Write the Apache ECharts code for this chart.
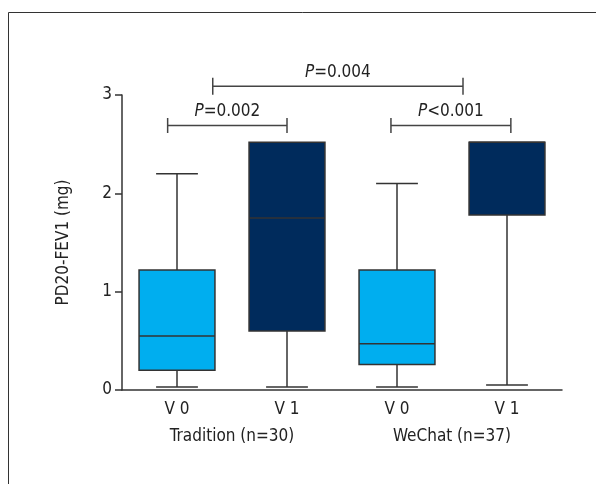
<!DOCTYPE html>
<html>
<head>
<meta charset="utf-8">
<script src="https://cdn.jsdelivr.net/npm/echarts@6/dist/echarts.min.js"></script>
<style>html,body{margin:0;padding:0;background:#fff}#c{width:596px;height:484px}</style>
</head>
<body>
<div id="c"></div>
<script>
// ---- data ----
var categories = ['V 0', 'V 1', 'V 0', 'V 1'];
var groupLabels = ['Tradition (n=30)', 'WeChat (n=37)'];
// [min, Q1, median, Q3, max]
var tradV0 = [0.03, 0.20, 0.55, 1.22, 2.20];
var tradV1 = [0.03, 0.60, 1.75, 2.52, 2.52];
var wechatV0 = [0.03, 0.26, 0.47, 1.22, 2.10];
var wechatV1 = [0.05, 1.78, 2.52, 2.52, 2.52];
var boxValues = [tradV0, tradV1, wechatV0, wechatV1];
var boxColors = ['#00AEEF', '#002B5C', '#00AEEF', '#002B5C'];
var yTicks = [0, 1, 2, 3];
// brackets: [xStart, xEnd, y, italic part, rest]  (x in category units)
var brackets = [
  [-0.085, 1.0, 2.69, 'P', '=0.002'],
  [1.945, 3.035, 2.69, 'P', '<0.001'],
  [0.325, 2.60, 3.09, 'P', '=0.004']
];

var FONT = "'Liberation Sans Narrow','DejaVu Sans Condensed','DejaVu Sans',sans-serif";
var TXT = '#222';
var LINE = '#333';

var chart = echarts.init(document.getElementById('c'), null, {renderer: 'canvas'});

var boxData = boxValues.map(function (v, i) { return [i].concat(v); });

var option = {
  animation: false,
  backgroundColor: '#fff',
  graphic: [
    {type: 'line', shape: {x1: 8.5, y1: 12.5, x2: 596, y2: 12.5}, style: {stroke: '#333', lineWidth: 1}},
    {type: 'line', shape: {x1: 8.5, y1: 12.5, x2: 8.5, y2: 484}, style: {stroke: '#333', lineWidth: 1}}
  ],
  grid: {left: 122, right: 34, top: 95, bottom: 94},
  xAxis: [
    {
      type: 'category', data: categories, boundaryGap: true,
      axisLine: {lineStyle: {color: LINE, width: 1.5}},
      axisTick: {show: false},
      axisLabel: {color: TXT, fontSize: 17, fontFamily: FONT, margin: 11, interval: 0}
    },
    {
      type: 'category', data: groupLabels, position: 'bottom', boundaryGap: true,
      axisLine: {show: false}, axisTick: {show: false},
      axisLabel: {color: TXT, fontSize: 17, fontFamily: FONT, margin: 38, interval: 0}
    },
    {
      type: 'value', min: -0.5, max: 3.5, show: false
    }
  ],
  yAxis: {
    type: 'value', min: 0, max: 3, interval: 1,
    name: 'PD20-FEV1 (mg)', nameLocation: 'middle', nameGap: 50,
    nameTextStyle: {color: TXT, fontSize: 17, fontFamily: FONT},
    axisLine: {show: true, onZero: false, lineStyle: {color: LINE, width: 1.5}},
    axisTick: {show: true, length: 7, lineStyle: {color: LINE, width: 1.5}},
    axisLabel: {color: TXT, fontSize: 17, fontFamily: FONT, margin: 10,
      formatter: function (v) { return yTicks.indexOf(v) >= 0 ? String(v) : ''; }},
    splitLine: {show: false}
  },
  series: [
    {
      type: 'custom',
      xAxisIndex: 0,
      data: boxData,
      renderItem: function (params, api) {
        var i = api.value(0);
        var pMin = api.coord([i, api.value(1)]);
        var pQ1 = api.coord([i, api.value(2)]);
        var pMed = api.coord([i, api.value(3)]);
        var pQ3 = api.coord([i, api.value(4)]);
        var pMax = api.coord([i, api.value(5)]);
        var band = api.size([1, 0])[0];
        var hw = band * 0.345;
        var cw = band * 0.19;
        var x = pQ1[0];
        var st = {stroke: LINE, lineWidth: 1.5};
        var ch = [];
        ch.push({type: 'line', shape: {x1: x, y1: pQ1[1], x2: x, y2: pMin[1]}, style: st});
        ch.push({type: 'line', shape: {x1: x - cw, y1: pMin[1], x2: x + cw, y2: pMin[1]}, style: st});
        ch.push({type: 'line', shape: {x1: x, y1: pQ3[1], x2: x, y2: pMax[1]}, style: st});
        if (pMax[1] < pQ3[1] - 0.5) {
          ch.push({type: 'line', shape: {x1: x - cw, y1: pMax[1], x2: x + cw, y2: pMax[1]}, style: st});
        }
        ch.push({type: 'rect', shape: {x: x - hw, y: pQ3[1], width: 2 * hw, height: pQ1[1] - pQ3[1]},
          style: {fill: boxColors[params.dataIndex], stroke: LINE, lineWidth: 1.5}});
        ch.push({type: 'line', shape: {x1: x - hw, y1: pMed[1], x2: x + hw, y2: pMed[1]}, style: st});
        return {type: 'group', children: ch};
      }
    },
    {
      type: 'custom',
      xAxisIndex: 2,
      clip: false,
      data: brackets,
      renderItem: function (params, api) {
        var b = brackets[params.dataIndex];
        var a = api.coord([b[0], b[2]]);
        var c = api.coord([b[1], b[2]]);
        var big = params.dataIndex === 2;
        var th = big ? 8.5 : 7.5;
        var st = {stroke: '#444', lineWidth: 1.5};
        var midX = (a[0] + c[0]) / 2;
        return {type: 'group', children: [
          {type: 'line', shape: {x1: a[0], y1: a[1], x2: c[0], y2: c[1]}, style: st},
          {type: 'line', shape: {x1: a[0], y1: a[1] - th, x2: a[0], y2: a[1] + th}, style: st},
          {type: 'line', shape: {x1: c[0], y1: c[1] - th, x2: c[0], y2: c[1] + th}, style: st},
          {type: 'text', x: midX, y: a[1] - 5, style: {
            text: '{i|' + b[3] + '}' + b[4],
            rich: {i: {fontStyle: 'italic', fontSize: 17, fontFamily: FONT, fill: TXT}},
            fontSize: 17, fontFamily: FONT, fill: TXT,
            align: 'center', verticalAlign: 'bottom'
          }}
        ]};
      }
    }
  ]
};
chart.setOption(option);
</script>
</body>
</html>
